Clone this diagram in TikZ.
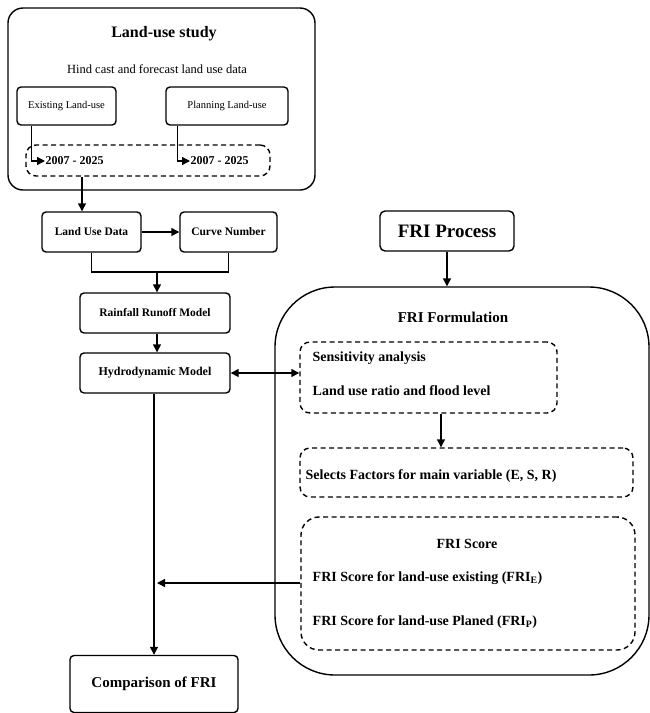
\documentclass[tikz,border=0pt]{standalone}
\usepackage{fontspec}
\setmainfont{Liberation Serif}
\usetikzlibrary{arrows.meta, positioning}

\begin{document}
\begin{tikzpicture}[x=1pt, y=-1pt, line width=1.4pt,
	box/.style={draw, rounded corners=4pt, inner sep=1pt, font=\bfseries\fontsize{11.5}{14}\selectfont},
	dashbox/.style={draw, dash pattern=on 5pt off 3.5pt, rounded corners=10pt},
	lbl/.style={anchor=west, inner sep=0pt, font=\bfseries\fontsize{14}{16}\selectfont},
	arr/.style={-{Triangle[length=8pt, width=8pt]}}]

\useasboundingbox (0,0) rectangle (650,713);

% land-use study block (top left)
\node[draw, rounded corners=15pt, minimum width=307pt, minimum height=182pt] (study) at (161.5,99) {};
\node[font=\bfseries\fontsize{16}{18}\selectfont] (studytitle) at (164,34) {Land-use study};
\node[font=\fontsize{12.5}{14}\selectfont] (hind) at (157,69) {Hind cast and forecast land use data};
\node[box, minimum width=99pt, minimum height=38pt, font=\fontsize{10.5}{12}\selectfont] (exist) at (66.5,106) {Existing Land-use};
\node[box, minimum width=122pt, minimum height=38pt, font=\fontsize{10.5}{12}\selectfont] (plan) at (227,106) {Planning Land-use};
\node[dashbox, minimum width=244pt, minimum height=31pt] (years) at (148,160.5) {};
\node[lbl, font=\bfseries\fontsize{12}{14}\selectfont] (yearE) at (45,161) {2007 - 2025};
\node[lbl, font=\bfseries\fontsize{12}{14}\selectfont] (yearP) at (190,161) {2007 - 2025};
\draw[arr] (exist.south west) ++(15,0) |- (yearE.west);
\draw[arr] (plan.south west) ++(12,0) |- (yearP.west);

% model chain (left column)
\node[box, minimum width=99pt, minimum height=40pt] (lud) at (91.5,232) {Land Use Data};
\node[box, minimum width=97pt, minimum height=40pt] (cn) at (228.5,232) {Curve Number};
\node[box, minimum width=150pt, minimum height=40pt] (rain) at (155,313) {Rainfall Runoff Model};
\node[box, minimum width=150pt, minimum height=40pt, font=\bfseries\fontsize{12}{14}\selectfont] (hydro) at (155,373) {Hydrodynamic Model};
\node[draw, rounded corners=4pt, minimum width=168pt, minimum height=57pt, font=\bfseries\fontsize{15}{17}\selectfont] (compare) at (154,684) {Comparison of FRI};

\draw[arr] (years.south -| 82,0) -- (lud.north -| 82,0);
\draw[arr] (lud) -- (cn);
\coordinate (join) at (157,272);
\draw (lud.south) |- (join) -| (cn.south);
\draw[arr] (join) -- (join |- rain.north);
\draw[arr] (rain.south -| join) -- (hydro.north -| join);
\draw[arr] (hydro.south -| 154,0) -- (compare.north -| 154,0);

% FRI process (right side)
\node[draw, rounded corners=5pt, minimum width=134pt, minimum height=40pt, font=\bfseries\fontsize{19}{21}\selectfont] (fri) at (447,231) {FRI Process};
\node[draw, rounded corners=60pt, minimum width=374pt, minimum height=388pt] (form) at (462,481) {};
\node[font=\bfseries\fontsize{15}{17}\selectfont] (formtitle) at (453,317) {FRI Formulation};
\draw[arr] (fri.south) -- (fri.south |- form.north);

\node[dashbox, minimum width=257pt, minimum height=71pt] (sens) at (428.5,377.5) {};
\node[lbl] (senstop) at (312,358) {Sensitivity analysis};
\node[lbl] (sensbot) at (312,391) {Land use ratio and flood level};

\node[dashbox, minimum width=333pt, minimum height=49pt] (select) at (466.5,472.5) {};
\node[lbl] (selecttxt) at (305,476) {Selects Factors for main variable (E, S, R)};
\draw[arr] (sens.south -| 441,0) -- (select.north -| 441,0);

\node[dashbox, minimum width=334pt, minimum height=133pt, rounded corners=18pt] (score) at (468,583.5) {};
\node[font=\bfseries\fontsize{14}{16}\selectfont] (scoretitle) at (467,544) {FRI Score};
\node[lbl] (scoreE) at (312,578) {FRI Score for land-use existing (FRI\textsubscript{E})};
\node[lbl] (scoreP) at (312,622) {FRI Score for land-use Planed (FRI\textsubscript{P})};

\draw[{Triangle[length=8pt, width=8pt]}-{Triangle[length=8pt, width=8pt]}] (hydro.east) -- (sens.west |- hydro.east);
\draw[arr] (score.west |- 0,583) -- (157,583);

\end{tikzpicture}
\end{document}
